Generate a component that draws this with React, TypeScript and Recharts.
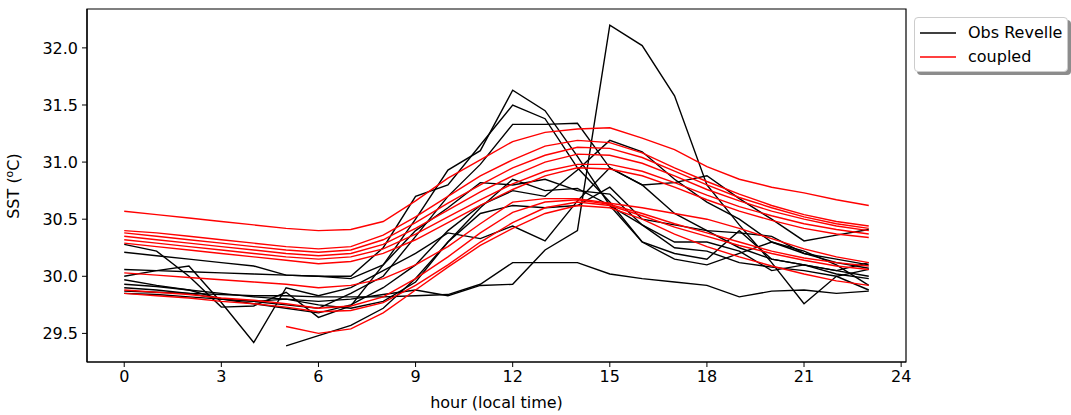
import React from 'react';
import { LineChart, Line, XAxis, YAxis, Legend, ReferenceArea } from 'recharts';

const hours = [0, 1, 2, 3, 4, 5, 6, 7, 8, 9, 10, 11, 12, 13, 14, 15, 16, 17, 18, 19, 20, 21, 22, 23];
const xTicks = [0, 3, 6, 9, 12, 15, 18, 21, 24];
const yTicks = [29.5, 30.0, 30.5, 31.0, 31.5, 32.0];

// Observations (Revelle), one array per day
const obs1 = [30.28, 30.22, 30.00, 29.73, 29.74, 29.86, 29.64, 29.74, 30.10, 30.50, 30.93, 31.10, 31.63, 31.45, 31.05, 30.62, 30.45, 30.30, 30.30, 30.22, 30.05, 30.10, 30.02, 29.98];
const obs2 = [30.21, 30.18, 30.15, 30.12, 30.09, 30.01, 30.00, 30.00, 30.25, 30.70, 30.80, 31.15, 31.50, 31.38, 30.95, 30.65, 30.30, 30.20, 30.15, 30.40, 30.15, 30.10, 30.05, 30.00];
const obs3 = [29.97, 29.92, 29.88, 29.80, 29.78, 29.75, 29.72, 29.85, 30.00, 30.35, 30.70, 30.98, 31.33, 31.33, 31.34, 30.95, 30.80, 30.82, 30.88, 30.68, 30.50, 30.31, 30.36, 30.41];
const obs4 = [29.93, 29.91, 29.88, 29.85, 29.82, 29.80, 29.78, 29.80, 29.84, 29.88, 29.83, 29.92, 29.93, 30.23, 30.40, 32.20, 32.02, 31.58, 30.80, 30.45, 30.12, 29.76, 30.00, 30.06];
const obs5 = [29.87, 29.86, 29.85, 29.84, 29.83, 29.83, 29.82, 29.82, 29.82, 29.83, 29.84, 29.93, 30.12, 30.12, 30.12, 30.02, 29.98, 29.95, 29.92, 29.82, 29.87, 29.88, 29.85, 29.87];
const obs6 = [null, null, null, null, null, 29.39, 29.48, 29.57, 29.72, 29.98, 30.30, 30.60, 30.85, 30.75, 30.77, 30.62, 30.30, 30.15, 30.10, 30.20, 30.30, 30.22, 30.10, 29.92];
const obs7 = [30.00, 30.05, 30.09, 29.77, 29.42, 29.90, 29.83, 29.90, 30.05, 30.20, 30.38, 30.33, 30.44, 30.31, 30.66, 30.95, 30.80, 30.55, 30.40, 30.25, 30.15, 30.10, 30.05, 30.12];
const obs8 = [29.90, 29.88, 29.85, 29.80, 29.76, 29.72, 29.68, 29.75, 29.90, 30.10, 30.40, 30.62, 30.75, 30.70, 30.93, 31.19, 31.09, 30.85, 30.65, 30.50, 30.30, 30.20, 30.15, 30.10];
const obs9 = [29.85, 29.84, 29.82, 29.80, 29.78, 29.80, 29.75, 29.72, 29.78, 29.95, 30.30, 30.55, 30.62, 30.60, 30.62, 30.78, 30.50, 30.45, 30.40, 30.38, 30.35, 30.20, 30.12, 30.07];
const obs10 = [30.06, 30.05, 30.04, 30.03, 30.02, 30.01, 30.00, 29.98, 30.10, 30.40, 30.60, 30.82, 30.80, 30.85, 30.75, 30.72, 30.45, 30.25, 30.22, 30.12, 30.08, 30.05, 30.00, 29.88];

// Coupled model, one array per day
const cpl1 = [30.57, 30.54, 30.51, 30.48, 30.45, 30.42, 30.40, 30.41, 30.48, 30.66, 30.86, 31.02, 31.18, 31.26, 31.29, 31.30, 31.21, 31.11, 30.96, 30.85, 30.78, 30.73, 30.67, 30.62];
const cpl2 = [30.40, 30.38, 30.35, 30.32, 30.29, 30.26, 30.24, 30.26, 30.36, 30.52, 30.70, 30.88, 31.02, 31.14, 31.19, 31.17, 31.08, 30.95, 30.83, 30.72, 30.62, 30.54, 30.48, 30.44];
const cpl3 = [30.38, 30.35, 30.32, 30.29, 30.26, 30.23, 30.21, 30.23, 30.32, 30.47, 30.64, 30.80, 30.95, 31.06, 31.13, 31.12, 31.04, 30.92, 30.80, 30.69, 30.60, 30.52, 30.46, 30.42];
const cpl4 = [30.35, 30.32, 30.29, 30.26, 30.23, 30.20, 30.18, 30.20, 30.28, 30.42, 30.58, 30.74, 30.88, 31.00, 31.07, 31.06, 30.99, 30.88, 30.76, 30.66, 30.57, 30.50, 30.44, 30.40];
const cpl5 = [30.32, 30.29, 30.26, 30.23, 30.20, 30.17, 30.15, 30.17, 30.24, 30.37, 30.52, 30.67, 30.81, 30.92, 30.98, 30.98, 30.92, 30.82, 30.71, 30.61, 30.53, 30.46, 30.41, 30.37];
const cpl6 = [30.29, 30.26, 30.23, 30.20, 30.17, 30.14, 30.11, 30.13, 30.20, 30.32, 30.47, 30.62, 30.76, 30.88, 30.95, 30.94, 30.88, 30.78, 30.67, 30.57, 30.49, 30.42, 30.37, 30.34];
const cpl7 = [30.03, 30.01, 29.99, 29.97, 29.95, 29.93, 29.90, 29.92, 29.98, 30.10, 30.26, 30.46, 30.65, 30.68, 30.68, 30.64, 30.60, 30.55, 30.50, 30.42, 30.33, 30.24, 30.17, 30.12];
const cpl8 = [29.88, 29.86, 29.84, 29.81, 29.79, 29.76, 29.72, 29.74, 29.82, 29.98, 30.17, 30.38, 30.56, 30.65, 30.67, 30.63, 30.55, 30.46, 30.38, 30.30, 30.22, 30.16, 30.12, 30.09];
const cpl9 = [29.85, 29.83, 29.81, 29.78, 29.76, 29.73, 29.69, 29.70, 29.77, 29.92, 30.10, 30.30, 30.47, 30.60, 30.65, 30.62, 30.53, 30.43, 30.35, 30.27, 30.20, 30.14, 30.09, 30.06];
const cpl10 = [null, null, null, null, null, 29.56, 29.50, 29.54, 29.68, 29.88, 30.08, 30.27, 30.42, 30.55, 30.62, 30.60, 30.50, 30.37, 30.26, 30.17, 30.09, 30.02, 29.96, 29.92];

const obsSeries = [obs1, obs2, obs3, obs4, obs5, obs6, obs7, obs8, obs9, obs10];
const cplSeries = [cpl1, cpl2, cpl3, cpl4, cpl5, cpl6, cpl7, cpl8, cpl9, cpl10];

const data = hours.map((h, i) => {
  const row: Record<string, number | null> = { hour: h };
  obsSeries.forEach((s, k) => { row['obs' + k] = s[i]; });
  cplSeries.forEach((s, k) => { row['cpl' + k] = s[i]; });
  return row;
});

const FONT = 'DejaVu Sans';
const X_DOMAIN: [number, number] = [-1.15, 24.15];
const Y_DOMAIN: [number, number] = [29.2495, 32.3405];

const renderLegend = () => (
  <div
    style={{
      position: 'relative',
      width: 154,
      height: 55,
      boxSizing: 'border-box',
      border: '1px solid #cccccc',
      borderRadius: 4,
      background: '#fff',
      boxShadow: '3px 3px 0 #8c8c8c',
      fontFamily: FONT,
      fontSize: 16,
      color: '#000',
    }}
  >
    {[
      { label: 'Obs Revelle', color: '#000000' },
      { label: 'coupled', color: '#ff0000' },
    ].map((it, i) => (
      <div key={it.label} style={{ position: 'absolute', left: 5, top: 4 + i * 24, height: 22, display: 'flex', alignItems: 'center' }}>
        <svg width={36} height={4} style={{ display: 'block' }}>
          <line x1={0} y1={2} x2={36} y2={2} stroke={it.color} strokeWidth={1.5} />
        </svg>
        <span style={{ marginLeft: 12, whiteSpace: 'nowrap', lineHeight: '22px' }}>{it.label}</span>
      </div>
    ))}
  </div>
);

const YTitle = () => (
  <text x={19} y={186} transform="rotate(-90, 19, 186)" textAnchor="middle" fontFamily={FONT} fontSize={16} fill="#000">
    SST (<tspan dy={-6} fontSize={11}>o</tspan><tspan dy={6}>C)</tspan>
  </text>
);

export default function App() {
  return (
    <div style={{ position: 'absolute', left: 0, top: 0, width: 1071, height: 415, background: '#fff' }}>
      <LineChart width={1071} height={415} data={data} margin={{ top: 9, right: 165, bottom: 3, left: 7 }}>
        <XAxis
          dataKey="hour"
          type="number"
          domain={X_DOMAIN}
          ticks={xTicks}
          allowDataOverflow
          height={50}
          tickSize={5}
          tickMargin={4}
          axisLine={{ stroke: '#000', strokeWidth: 1.2 }}
          tickLine={{ stroke: '#000' }}
          tick={{ fill: '#000', fontSize: 16, fontFamily: FONT }}
          label={{ value: 'hour (local time)', position: 'insideBottom', offset: 4, fill: '#000', fontSize: 16, fontFamily: FONT }}
        />
        <YAxis
          type="number"
          domain={Y_DOMAIN}
          ticks={yTicks}
          allowDataOverflow
          width={80}
          tickSize={5}
          tickMargin={4}
          tickFormatter={(v: number) => v.toFixed(1)}
          axisLine={{ stroke: '#000', strokeWidth: 1.2 }}
          tickLine={{ stroke: '#000' }}
          tick={{ fill: '#000', fontSize: 16, fontFamily: FONT }}
          label={<YTitle />}
        />
        <ReferenceArea
          x1={X_DOMAIN[0]}
          x2={X_DOMAIN[1]}
          y1={Y_DOMAIN[0]}
          y2={Y_DOMAIN[1]}
          fill="none"
          fillOpacity={0}
          stroke="#000"
          strokeWidth={1.2}
          ifOverflow="extendDomain"
        />
        <Legend
          layout="horizontal"
          verticalAlign="middle"
          align="center"
          content={renderLegend}
          wrapperStyle={{ left: 914, top: 17, width: 157, height: 60 }}
        />
        {obsSeries.map((_, k) => (
          <Line
            key={'obs' + k}
            dataKey={'obs' + k}
            type="linear"
            stroke="#000000"
            strokeWidth={1.4}
            dot={false}
            activeDot={false}
            isAnimationActive={false}
            connectNulls={false}
            legendType="none"
          />
        ))}
        {cplSeries.map((_, k) => (
          <Line
            key={'cpl' + k}
            dataKey={'cpl' + k}
            type="linear"
            stroke="#ff0000"
            strokeWidth={1.4}
            dot={false}
            activeDot={false}
            isAnimationActive={false}
            connectNulls={false}
            legendType="none"
          />
        ))}
      </LineChart>
    </div>
  );
}
